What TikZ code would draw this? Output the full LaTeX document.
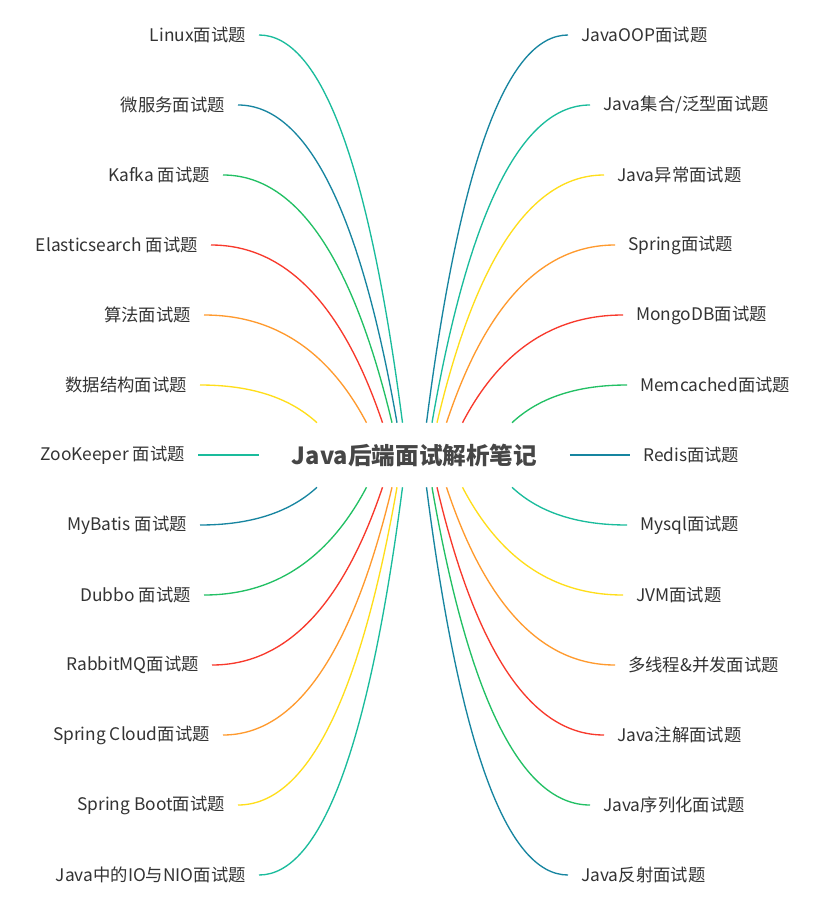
\documentclass[tikz,border=0pt]{standalone}
\usepackage{fontspec}
\setmainfont{Noto Sans CJK SC}
\usetikzlibrary{calc}

\definecolor{cTeal}{HTML}{1ABC9C}
\definecolor{cBlue}{HTML}{1785A0}
\definecolor{cGreen}{HTML}{22C064}
\definecolor{cRed}{HTML}{F8392C}
\definecolor{cOrange}{HTML}{FF9A2E}
\definecolor{cYellow}{HTML}{FFDE1A}
\definecolor{txtgray}{HTML}{333333}
\definecolor{titlegray}{HTML}{464646}

\begin{document}
\begin{tikzpicture}[x=0.75pt,y=-0.75pt,
  topic/.style={font=\fontsize{13}{15}\selectfont, text=txtgray, inner xsep=9.75pt, inner ysep=2pt},
  link/.style={line width=1pt}]

\fill[white] (0,0) rectangle (822,910);
\useasboundingbox (0,0) rectangle (822,910);

% Central topic
\node[font=\bfseries\fontsize{17.7}{20}\selectfont, text=titlegray,
  minimum width=232.5pt, minimum height=48pt, inner sep=0pt] (root) at (414.5,455) {Java后端面试解析笔记};

% Topics on the left
\foreach \i/\x/\txt in {1/259/Linux面试题, 2/238/微服务面试题, 3/223/Kafka 面试题,
  4/211/Elasticsearch 面试题, 5/204/算法面试题, 6/200/数据结构面试题, 7/198/ZooKeeper 面试题,
  8/200/MyBatis 面试题, 9/204/Dubbo 面试题, 10/212/RabbitMQ面试题, 11/223/Spring Cloud面试题,
  12/238/Spring Boot面试题, 13/259/Java中的IO与NIO面试题}
  \node[topic, anchor=east] (l\i) at (\x, {35+70*(\i-1)}) {\txt};

% Topics on the right
\foreach \i/\x/\txt in {1/568/JavaOOP面试题, 2/590/{Java集合/泛型面试题}, 3/604/Java异常面试题,
  4/615/Spring面试题, 5/623/MongoDB面试题, 6/627/Memcached面试题, 7/630/Redis面试题,
  8/627/Mysql面试题, 9/623/JVM面试题, 10/615/多线程\&并发面试题, 11/604/Java注解面试题,
  12/590/Java序列化面试题, 13/568/Java反射面试题}
  \node[topic, anchor=west] (r\i) at (\x, {35+70*(\i-1)}) {\txt};

% Curved links, left side
\foreach \i/\off/\col/\side in {1/12/cTeal/north, 2/17.5/cBlue/north, 3/22.5/cGreen/north,
  4/32/cRed/north, 5/48/cOrange/north, 6/97.5/cYellow/north,
  8/97.5/cBlue/south, 9/48/cGreen/south, 10/32/cRed/south,
  11/22.5/cOrange/south, 12/17.5/cYellow/south, 13/12/cTeal/south} {
  \coordinate (e) at ($(root.\side)+(-\off,0)$);
  \coordinate (c) at ($(l\i.east)!0.65!(l\i.east -| e)$);
  \draw[link,\col] (l\i.east) .. controls ($(l\i.east)!0.667!(c)$) and ($(e)!0.667!(c)$) .. (e);
}

% Curved links, right side
\foreach \i/\off/\col/\side in {1/12/cBlue/north, 2/17.5/cTeal/north, 3/22.5/cYellow/north,
  4/32/cOrange/north, 5/48/cRed/north, 6/97.5/cGreen/north,
  8/97.5/cTeal/south, 9/48/cYellow/south, 10/32/cOrange/south,
  11/22.5/cRed/south, 12/17.5/cGreen/south, 13/12/cBlue/south} {
  \coordinate (e) at ($(root.\side)+(\off,0)$);
  \coordinate (c) at ($(r\i.west)!0.65!(r\i.west -| e)$);
  \draw[link,\col] (r\i.west) .. controls ($(r\i.west)!0.667!(c)$) and ($(e)!0.667!(c)$) .. (e);
}

% Straight links
\draw[link,cTeal] (l7.east) -- (root.west);
\draw[link,cBlue] (root.east) -- (r7.west);

\end{tikzpicture}
\end{document}
